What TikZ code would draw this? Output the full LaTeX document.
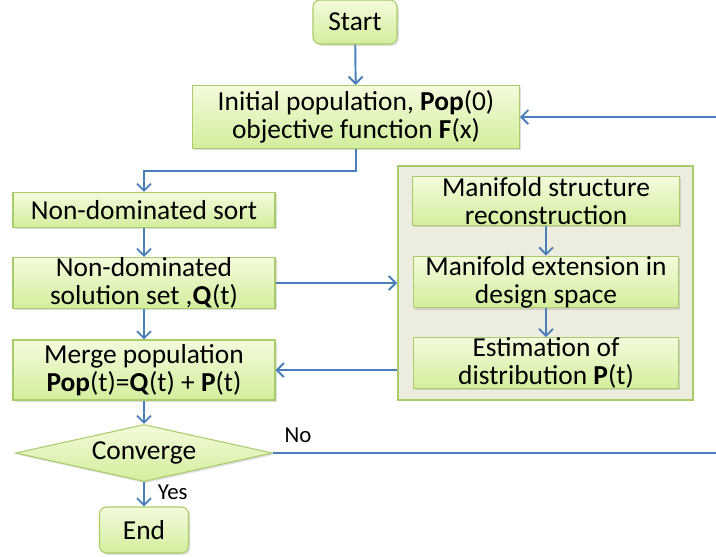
\documentclass[tikz,border=0pt]{standalone}
\usepackage{fontspec}
\setmainfont{Carlito}
\usepackage{tikz}
\usetikzlibrary{arrows.meta, shapes.geometric, shadows, calc}

\definecolor{boxtop}{HTML}{F4FBDC}
\definecolor{boxbot}{HTML}{D2EE9C}
\definecolor{boxline}{HTML}{A9CC6A}
\definecolor{groupfill}{HTML}{ECECDF}
\definecolor{flow}{HTML}{4A7EBB}

\begin{document}
\begin{tikzpicture}[x=0.02cm, y=-0.02cm,
        >={Straight Barb[length=4pt,width=8pt,line width=1.1pt]},
        every node/.style={font=\fontsize{15.6}{15.8}\selectfont},
        block/.style={rectangle, draw=boxline, top color=boxtop, bottom color=boxbot,
            align=center, inner sep=0pt, line width=0.6pt,
            drop shadow={shadow xshift=1pt, shadow yshift=-1pt, opacity=0.25}},
        terminal/.style={block, rounded corners=4pt},
        decision/.style={diamond, draw=boxline, top color=boxtop, bottom color=boxbot,
            aspect=4.5, inner sep=0pt, line width=0.6pt,
            minimum width=5.14cm, minimum height=1.14cm,
            drop shadow={shadow xshift=1pt, shadow yshift=-1pt, opacity=0.25}},
        flowline/.style={draw=flow, line width=1.1pt},
        small/.style={font=\fontsize{13}{15}\selectfont}]
        \useasboundingbox (0,0) rectangle (716,556);

        % main column
        \node[terminal, minimum width=1.68cm, minimum height=0.88cm] (start) at (355,22) {Start};
        \node[block, minimum width=6.54cm, minimum height=1.26cm] (init) at (356,117)
            {Initial population, \textbf{Pop}(0)\\objective function \textbf{F}(x)};
        \node[block, minimum width=5.24cm, minimum height=0.70cm] (sort) at (144,210) {Non-dominated sort};
        \node[block, minimum width=5.24cm, minimum height=1.02cm] (nds) at (144,283)
            {Non-dominated\\solution set ,\textbf{Q}(t)};
        \node[block, minimum width=5.24cm, minimum height=1.20cm] (merge) at (144,370)
            {Merge population\\\textbf{Pop}(t)=\textbf{Q}(t) + \textbf{P}(t)};
        \node[decision] (conv) at (144,453) {\raisebox{-2pt}{Converge}};
        \node[terminal, minimum width=1.78cm, minimum height=0.92cm] (end) at (144,530) {End};

        % manifold group
        \node[rectangle, draw=boxline, fill=groupfill, line width=1pt,
            minimum width=5.9cm, minimum height=4.68cm] (group) at (545.5,283) {};
        \node[block, minimum width=5.34cm, minimum height=0.98cm] (recon) at (546,201)
            {Manifold structure\\reconstruction};
        \node[block, minimum width=5.3cm, minimum height=1.0cm] (ext) at (546,282)
            {Manifold extension in\\design space};
        \node[block, minimum width=5.3cm, minimum height=1.0cm] (est) at (546,363)
            {Estimation of\\distribution \textbf{P}(t)};

        \coordinate (turn) at (144,171);
        \coordinate (rside) at (718,0);

        \draw[flowline,->] (start) -- (init);
        \draw[flowline,->] (init.south) |- (turn) -- (sort.north);
        \draw[flowline,->] (sort) -- (nds);
        \draw[flowline,->] (nds.east) -- (nds.east -| group.west);
        \draw[flowline,->] (recon) -- (ext);
        \draw[flowline,->] (ext) -- (est);
        \draw[flowline,->] (group.west |- merge.east) -- (merge.east);
        \draw[flowline,->] (nds) -- (merge);
        \draw[flowline,->] (merge) -- (conv);
        \draw[flowline,->] (conv.south) -- (end.north) node[small, midway, right=4pt, yshift=1pt] {Yes};
        \draw[flowline,->] (conv.east) -- (conv.east -| rside) |- (init.east);
        \node[small] (no) at (298,435) {No};

    \end{tikzpicture}
\end{document}
